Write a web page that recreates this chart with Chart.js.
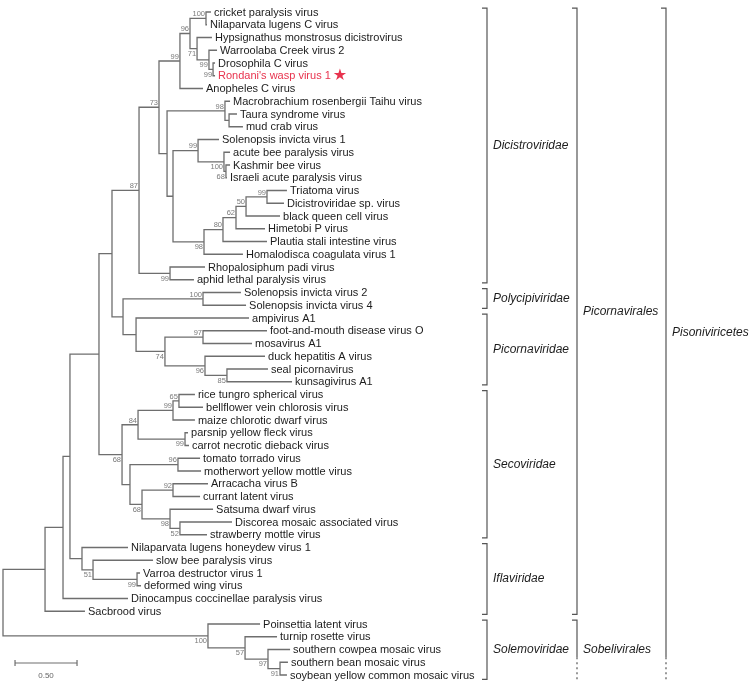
<!DOCTYPE html>
<html><head><meta charset="utf-8">
<script src="https://cdn.jsdelivr.net/npm/chart.js@4/dist/chart.umd.min.js"></script>
<style>html,body{margin:0;padding:0;background:#fff}#wrap{width:750px;height:682px;position:relative}</style>
</head><body><div id="wrap"><canvas id="c"></canvas></div>
<script>
// ---- leaves (top to bottom) and their distance from the root (substitutions/site)
const leafNames = [
 'cricket paralysis virus','Nilaparvata lugens C virus','Hypsignathus monstrosus dicistrovirus','Warroolaba Creek virus 2',
 'Drosophila C virus',"Rondani's wasp virus 1",'Anopheles C virus','Macrobrachium rosenbergii Taihu virus',
 'Taura syndrome virus','mud crab virus','Solenopsis invicta virus 1','acute bee paralysis virus','Kashmir bee virus',
 'Israeli acute paralysis virus','Triatoma virus','Dicistroviridae sp. virus','black queen cell virus','Himetobi P virus',
 'Plautia stali intestine virus','Homalodisca coagulata virus 1','Rhopalosiphum padi virus','aphid lethal paralysis virus',
 'Solenopsis invicta virus 2','Solenopsis invicta virus 4','ampivirus A1','foot-and-mouth disease virus O','mosavirus A1',
 'duck hepatitis A virus','seal picornavirus','kunsagivirus A1','rice tungro spherical virus','bellflower vein chlorosis virus',
 'maize chlorotic dwarf virus','parsnip yellow fleck virus','carrot necrotic dieback virus','tomato torrado virus',
 'motherwort yellow mottle virus','Arracacha virus B','currant latent virus','Satsuma dwarf virus',
 'Discorea mosaic associated virus','strawberry mottle virus','Nilaparvata lugens honeydew virus 1','slow bee paralysis virus',
 'Varroa destructor virus 1','deformed wing virus','Dinocampus coccinellae paralysis virus','Sacbrood virus',
 'Poinsettia latent virus','turnip rosette virus','southern cowpea mosaic virus','southern bean mosaic virus',
 'soybean yellow common mosaic virus'];
const leafDepths = [
 1.677,1.645,1.685,1.726,1.710,1.710,1.613,1.831,1.887,1.935,1.742,1.831,1.831,1.806,2.290,2.266,2.234,2.113,2.129,1.935,
 1.629,1.540,1.919,1.960,1.984,2.129,2.008,2.113,2.137,2.331,1.548,1.613,1.548,1.492,1.500,1.589,1.597,1.653,1.589,1.694,
 1.847,1.645,1.008,1.210,1.105,1.113,1.008,0.661,2.073,2.210,2.315,2.298,2.290];
const highlightLeaf = 5;

// ---- internal nodes: id, depth, bootstrap support, children (leaf index or node id)
const nodeIds = ['root','A','K','B','I','IF51','IF99','C','D','N87','N73','X6','X5','X1','X4','X3','X2','M','MB','TA',
 'S','SI','AB','KB','HC','PS','HP','BQ','TR','RH','E','POL','F','P74','P97','P96','P85','SEC','S84','S99a','S65','S99b',
 'H','S96','S68b','S92','S98','S52','SOL','L57','L97','L91'];
const nodeDepths = [0,0.339,0.484,0.540,0.637,0.726,1.081,0.774,0.879,1.097,1.258,1.427,1.508,1.637,1.565,1.661,1.694,1.323,1.790,1.823,
 1.371,1.573,1.782,1.798,1.621,1.774,1.879,1.960,2.129,1.347,0.968,1.613,1.073,1.306,1.613,1.629,1.806,0.960,1.089,1.371,1.419,1.468,
 1.024,1.411,1.121,1.371,1.347,1.427,1.653,1.952,2.137,2.234];
const nodeSupport = [null,null,null,null,null,51,99,null,null,87,73,99,96,100,71,99,99,null,98,null,
 null,99,100,68,98,80,62,50,99,99,null,100,null,74,97,96,85,68,84,99,65,99,
 null,96,68,92,98,52,100,57,97,91];
const supportBelow = [0,0,0,0,0,1,1,0,0,0,0,0,0,0,1,1,1,0,0,0,
 0,0,1,1,1,0,0,0,0,1,0,0,0,1,0,1,1,1,0,0,0,1,
 0,0,1,0,1,1,1,1,1,1];
const nodeChildren = [['A','SOL'],['K',47],['B',46],['C','I'],[42,'IF51'],[43,'IF99'],[44,45],['D','SEC'],['N87','E'],['N73','RH'],
 ['X6','M'],['X5',6],['X1','X4'],[0,1],[2,'X3'],[3,'X2'],[4,5],['MB','S'],[7,'TA'],[8,9],
 ['SI','HC'],[10,'AB'],[11,'KB'],[12,13],['PS',19],['HP',18],['BQ',17],['TR',16],[14,15],[20,21],
 ['POL','F'],[22,23],[24,'P74'],['P97','P96'],[25,26],[27,'P85'],[28,29],['S84','H'],['S99a','S99b'],['S65',32],[30,31],[33,34],
 ['S96','S68b'],[35,36],['S92','S98'],[37,38],[39,'S52'],[40,41],[48,'L57'],[49,'L97'],[50,'L91'],[51,52]];

// ---- clade brackets
const families = ['Dicistroviridae','Polycipiviridae','Picornaviridae','Secoviridae','Iflaviridae','Solemoviridae'];
const familyFirst = [0,22,24,30,42,48];
const familyLast = [21,23,29,41,47,52];
const orders = ['Picornavirales','Sobelivirales'];
const orderFirst = [0,48];
const orderLast = [47,52];
const className = 'Pisoniviricetes';
const scaleBarStart = 0.097, scaleBarLength = 0.5, scaleBarLabel = '0.50';

// ---- layout of tree
const idx = {}; nodeIds.forEach((id,i)=>idx[id]=i);
const cache = {};
function pos(ref){
  if (typeof ref === 'number') return {x: leafDepths[ref], y: ref};
  if (cache[ref]) return cache[ref];
  const i = idx[ref];
  const kids = nodeChildren[i].map(pos);
  const p = {x: nodeDepths[i], y: (kids[0].y + kids[kids.length-1].y)/2, kids, i};
  cache[ref] = p; return p;
}
nodeIds.forEach(pos);

const LINE = '#6e6e6e';
const datasets = nodeIds.map(id=>{
  const p = cache[id]; const a = p.kids[0], b = p.kids[p.kids.length-1];
  return {data:[{x:a.x,y:a.y},{x:p.x,y:a.y},{x:p.x,y:b.y},{x:b.x,y:b.y}],
    showLine:true, borderColor:LINE, borderWidth:1.3, pointRadius:0, fill:false, tension:0};
});

const FONT = '"Liberation Sans", Arial, Helvetica, sans-serif';
const textPlugin = {
  id:'treeText',
  afterDatasetsDraw(chart){
    const ctx = chart.ctx, xs = chart.scales.x, ys = chart.scales.y;
    ctx.save();
    // leaf labels
    ctx.font = '11px ' + FONT; ctx.textBaseline = 'middle'; ctx.textAlign = 'left';
    leafNames.forEach((n,i)=>{
      const x = xs.getPixelForValue(leafDepths[i]) + 3, y = ys.getPixelForValue(i) + 0.5;
      ctx.fillStyle = i === highlightLeaf ? '#e8334e' : '#1c1c1c';
      ctx.fillText(n, x, y);
      if (i === highlightLeaf){
        const w = ctx.measureText(n).width;
        ctx.font = '16px "DejaVu Sans", sans-serif';
        ctx.fillText('\u2605', x + w + 2, y);
        ctx.font = '11px ' + FONT;
      }
    });
    // bootstrap values
    ctx.font = '7.5px ' + FONT; ctx.fillStyle = '#7a7a7a'; ctx.textAlign = 'right';
    nodeIds.forEach((id,i)=>{
      if (nodeSupport[i] == null) return;
      const p = cache[id];
      const x = xs.getPixelForValue(p.x) - 1, y = ys.getPixelForValue(p.y);
      if (supportBelow[i]) { ctx.textBaseline = 'top'; ctx.fillText(String(nodeSupport[i]), x, y + 1.5); }
      else { ctx.textBaseline = 'bottom'; ctx.fillText(String(nodeSupport[i]), x, y - 0.5); }
    });
    // brackets
    ctx.strokeStyle = '#555'; ctx.lineWidth = 1.2; ctx.fillStyle = '#1c1c1c';
    ctx.font = 'italic 12px ' + FONT; ctx.textAlign = 'left'; ctx.textBaseline = 'middle';
    const H = chart.height;
    function bracket(bx, yTop, yBot, tickBot){
      ctx.beginPath(); ctx.moveTo(bx-5, yTop); ctx.lineTo(bx, yTop); ctx.lineTo(bx, yBot);
      if (tickBot) ctx.lineTo(bx-5, yBot);
      ctx.stroke();
    }
    function dotted(bx, y1, y2){
      ctx.save(); ctx.setLineDash([2,3]); ctx.beginPath(); ctx.moveTo(bx,y1); ctx.lineTo(bx,y2); ctx.stroke(); ctx.restore();
    }
    families.forEach((f,k)=>{
      const y1 = ys.getPixelForValue(familyFirst[k]-0.3);
      const y2 = ys.getPixelForValue(familyLast[k] + (k===families.length-1 ? 0.35 : 0.25));
      bracket(487, y1, y2, true);
      ctx.fillText(f, 493, (y1+y2)/2);
    });
    const solidEnd = ys.getPixelForValue(50.6);
    // orders
    {
      const y1 = ys.getPixelForValue(orderFirst[0]-0.3), y2 = ys.getPixelForValue(orderLast[0]+0.25);
      bracket(577, y1, y2, true); ctx.fillText(orders[0], 583, (y1+y2)/2);
      const z1 = ys.getPixelForValue(orderFirst[1]-0.3);
      bracket(577, z1, solidEnd, false); dotted(577, solidEnd, H);
      ctx.fillText(orders[1], 583, ys.getPixelForValue((orderFirst[1]+orderLast[1])/2));
    }
    // class
    {
      const y1 = ys.getPixelForValue(-0.3);
      bracket(666, y1, solidEnd, false); dotted(666, solidEnd, H);
      ctx.fillText(className, 672, (y1+solidEnd)/2);
    }
    // scale bar
    const sx1 = xs.getPixelForValue(scaleBarStart), sx2 = xs.getPixelForValue(scaleBarStart+scaleBarLength);
    const sy = ys.getPixelForValue(51.06);
    ctx.strokeStyle = LINE; ctx.lineWidth = 1.2;
    ctx.beginPath(); ctx.moveTo(sx1, sy); ctx.lineTo(sx2, sy);
    ctx.moveTo(sx1, sy-3); ctx.lineTo(sx1, sy+3); ctx.moveTo(sx2, sy-3); ctx.lineTo(sx2, sy+3); ctx.stroke();
    ctx.font = '8px ' + FONT; ctx.fillStyle = '#666'; ctx.textAlign = 'center'; ctx.textBaseline = 'middle';
    ctx.fillText(scaleBarLabel, (sx1+sx2)/2, sy + 13);
    ctx.restore();
  }
};

new Chart(document.getElementById('c'), {
  type:'scatter',
  data:{datasets},
  options:{
    responsive:true, maintainAspectRatio:false, animation:false,
    layout:{padding:0},
    plugins:{legend:{display:false}, tooltip:{enabled:false}},
    elements:{line:{capBezierPoints:false}},
    scales:{
      x:{type:'linear', min:-3/124, max:747/124, display:false},
      y:{type:'linear', min:-0.94, max:52.55, reverse:true, display:false}
    }
  },
  plugins:[textPlugin]
});
</script>
</body></html>
